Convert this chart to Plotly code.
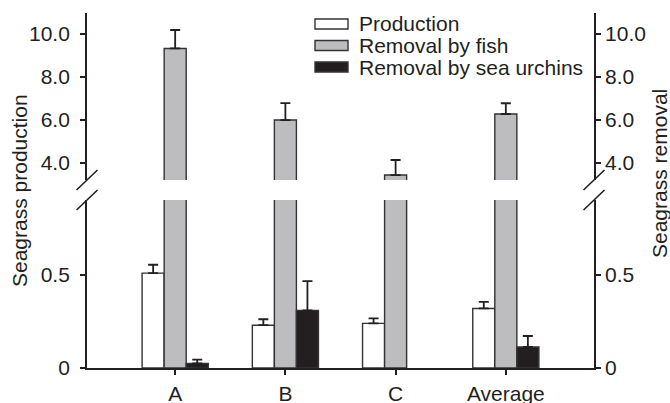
import plotly.graph_objects as go

# ---- data -------------------------------------------------------------
sites = ["A", "B", "C", "Average"]
series_names = ["Production", "Removal by fish", "Removal by sea urchins"]

production = [0.51, 0.23, 0.24, 0.32]
production_se = [0.045, 0.032, 0.027, 0.035]

fish_removal = [9.33, 6.0, 3.44, 6.28]
fish_removal_se = [0.86, 0.79, 0.70, 0.50]

urchin_removal = [0.025, 0.31, None, 0.113]
urchin_removal_se = [0.02, 0.157, 0, 0.059]

lower_tick_vals = [0, 0.5]
lower_tick_text = ["0", "0.5"]
upper_tick_vals = [4, 6, 8, 10]
upper_tick_text = ["4.0", "6.0", "8.0", "10.0"]

# ---- styling ------------------------------------------------------------
W, H = 670, 403
ML, MR, MT, MB = 87, 76, 13, 35
PW, PH = W - ML - MR, H - MT - MB

INK = "#231f20"
FILLS = ["#ffffff", "#bdbdbf", "#231f20"]
FONT = dict(family="Liberation Sans, Arial, Helvetica, sans-serif", size=21, color=INK)

# vertical split of the broken axis (paper fractions)
LOWER_DOM = [0.0, (368 - 200) / PH]
UPPER_DOM = [(368 - 180) / PH, 1.0]
LOWER_RANGE = [0, 0.903]
UPPER_RANGE = [3.21, 10.98]

BAR_W = 0.2
OFFSETS = [-0.3, -0.1, 0.1]


def px_x(px):
    return (px - ML) / PW


def px_y(py):
    return (MT + PH - py) / PH


def err(vals):
    return dict(type="data", symmetric=False, array=vals,
                arrayminus=[0] * len(vals), color=INK,
                thickness=1.8, width=5)


def bar(y, se, idx, yaxis):
    return go.Bar(
        x=sites, y=y, name=series_names[idx], yaxis=yaxis,
        width=BAR_W, offset=OFFSETS[idx],
        marker=dict(color=FILLS[idx], line=dict(color="#333333", width=1.4)),
        error_y=err(se), showlegend=False, cliponaxis=True,
    )


fig = go.Figure()
# lower panel: all three series
fig.add_trace(bar(production, production_se, 0, "y2"))
fig.add_trace(bar(fish_removal, fish_removal_se, 1, "y2"))
fig.add_trace(bar(urchin_removal, urchin_removal_se, 2, "y2"))
# upper panel: only fish removal reaches this range
fig.add_trace(bar(fish_removal, fish_removal_se, 1, "y"))
# the right-hand (removal) axes share the same scales; attach the removal
# series to them without drawing anything so the axes are rendered
fig.add_trace(go.Scatter(x=sites, y=fish_removal, yaxis="y3", mode="none",
                         showlegend=False, hoverinfo="skip"))
fig.add_trace(go.Scatter(x=sites, y=urchin_removal, yaxis="y4", mode="none",
                         showlegend=False, hoverinfo="skip"))

axis_common = dict(
    showline=True, linecolor=INK, linewidth=1.8,
    ticks="outside", ticklen=5, tickwidth=1.6, tickcolor=INK,
    showgrid=False, zeroline=False, tickfont=FONT, automargin=False,
)

fig.update_layout(
    width=W, height=H,
    margin=dict(l=ML, r=MR, t=MT, b=MB, pad=0, autoexpand=False),
    paper_bgcolor="white", plot_bgcolor="white",
    barmode="overlay", font=FONT, showlegend=False,
    xaxis=dict(axis_common, domain=[0, 1], anchor="y2", range=[-0.8, 3.8],
               type="category", ticklabelstandoff=1),
    yaxis=dict(axis_common, domain=UPPER_DOM, anchor="x", range=UPPER_RANGE,
               tickvals=upper_tick_vals, ticktext=upper_tick_text,
               ticklabelstandoff=6),
    yaxis2=dict(axis_common, domain=LOWER_DOM, anchor="x", range=LOWER_RANGE,
                tickvals=lower_tick_vals, ticktext=lower_tick_text,
                ticklabelstandoff=6),
    yaxis3=dict(axis_common, overlaying="y", anchor="x", side="right",
                range=UPPER_RANGE, tickvals=upper_tick_vals,
                ticktext=upper_tick_text, ticklabelstandoff=0),
    yaxis4=dict(axis_common, overlaying="y2", anchor="x", side="right",
                range=LOWER_RANGE, tickvals=lower_tick_vals,
                ticktext=lower_tick_text, ticklabelstandoff=0),
)

# ---- axis break marks ----------------------------------------------------
shapes = []
for ax_x in (0.0, 1.0):
    for dom_edge in (UPPER_DOM[0], LOWER_DOM[1]):
        shapes.append(dict(
            type="line", xref="paper", yref="paper",
            x0=ax_x - 10.5 / PW, x1=ax_x + 10.5 / PW,
            y0=dom_edge - 10 / PH, y1=dom_edge + 10 / PH,
            line=dict(color=INK, width=1.6),
        ))

# ---- legend (boxes + labels) ---------------------------------------------
annotations = []
legend_rows = [24, 45.5, 67]
for i, name in enumerate(series_names):
    cy = legend_rows[i]
    shapes.append(dict(
        type="rect", xref="paper", yref="paper",
        x0=px_x(315), x1=px_x(348), y0=px_y(cy + 5), y1=px_y(cy - 5),
        fillcolor=FILLS[i], line=dict(color="#333333", width=1.4),
    ))
    annotations.append(dict(
        text=name, xref="paper", yref="paper", x=px_x(357), y=px_y(cy),
        xanchor="left", yanchor="middle", showarrow=False, font=FONT,
    ))

# ---- axis titles -----------------------------------------------------------
annotations.append(dict(
    text="Seagrass production", xref="paper", yref="paper",
    x=px_x(19), y=px_y(191), textangle=-90, showarrow=False,
    xanchor="center", yanchor="middle", font=FONT,
))
annotations.append(dict(
    text="Seagrass removal", xref="paper", yref="paper",
    x=px_x(660), y=px_y(174), textangle=-90, showarrow=False,
    xanchor="center", yanchor="middle", font=FONT,
))

fig.update_layout(shapes=shapes, annotations=annotations)

fig.write_html("out.html")
